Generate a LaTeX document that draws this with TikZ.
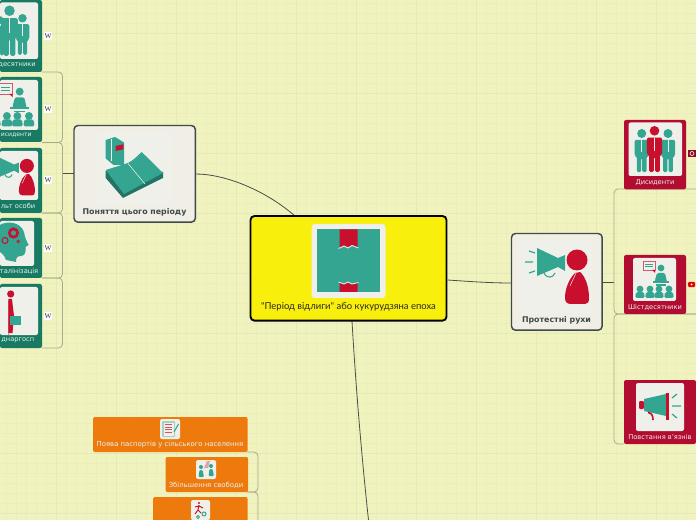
\documentclass[tikz,border=0pt]{standalone}
\usepackage{fontspec}
\setmainfont{DejaVu Sans}
\newfontfamily\titlefont{Lato}
\newfontfamily\wfont{Liberation Serif}
\usetikzlibrary{calc}
\definecolor{pagebg}{HTML}{F1F3BF}
\definecolor{gridminor}{HTML}{EBEDBB}
\definecolor{gridmajor}{HTML}{E5E8B8}
\definecolor{teal1}{HTML}{34A590}
\definecolor{red1}{HTML}{C8102E}
\definecolor{grn}{HTML}{187A62}
\definecolor{crim}{HTML}{B20D30}
\definecolor{org}{HTML}{EE7A0D}
\definecolor{imgbg}{HTML}{F0F0EB}
\definecolor{cardbg}{HTML}{F1EFE5}
\definecolor{cardline}{HTML}{3F4A4C}
\definecolor{rail}{HTML}{A9AB8C}
\definecolor{linkc}{HTML}{4A4F4A}
\definecolor{rootfill}{HTML}{F8EF0C}
\pgfdeclarelayer{grid}\pgfdeclarelayer{links}\pgfsetlayers{grid,links,main}
\tikzset{
 x=0.75pt,y=-0.75pt,
 basebox/.style={anchor=north west,inner sep=0pt,outer sep=0pt,rounded corners=1.5pt},
 greenbox/.style={basebox,fill=grn},
 redbox/.style={basebox,fill=crim},
 orangebox/.style={basebox,fill=org},
 cardbox/.style={basebox,fill=cardbg,draw=cardline,line width=1.1pt,rounded corners=3pt},
 rootbox/.style={basebox,fill=rootfill,draw=black,line width=1.4pt,rounded corners=3pt},
 lab/.style={inner sep=0pt,text=white!88!teal1,font=\fontsize{5}{6}\selectfont},
 cardlab/.style={inner sep=0pt,text=cardline,font=\fontsize{5.9}{7}\selectfont\bfseries},
 imgtile/.style={fill=imgbg,rounded corners=1.5pt},
 railline/.style={draw=rail,line width=0.6pt,rounded corners=3pt},
 linkline/.style={draw=linkc,line width=0.6pt},
 wicon/.style={fill=white,inner sep=0pt,minimum width=6pt,minimum height=6pt,font=\fontsize{5.5}{6}\wfont,text=black!80},
 ray/.style={line width=0.9pt,draw=teal1},
}
\newcommand{\figperson}[5][teal1]{%
 \begin{scope}[shift={(#2,#3)},scale=#4]
  \fill[#1] (0,5) circle (5);
  \fill[#1,rounded corners=1.2pt] (-8,12) -- (8,12) -- (8,30) -- (5.5,30) -- (5.5,48) -- (0.6,48) -- (0.6,32) -- (-0.6,32) -- (-0.6,48) -- (-5.5,48) -- (-5.5,30) -- (-8,30) -- cycle;
  \draw[#5,line width=0.35pt] (0,12) -- (0,26);
 \end{scope}}
\newcommand{\figlecture}[3]{%
 \begin{scope}[shift={(#1,#2)},scale=#3]
  \draw[red1!70!white,fill=imgbg,line width=0.5pt] (10,3) rectangle (22,12);
  \draw[teal1,line width=0.5pt] (12,6) -- (20,6) (12,8.5) -- (20,8.5);
  \fill[red1] (19,12) -- (22,12) -- (22,15) -- cycle;
  \fill[teal1] (28,10) circle (3.4);
  \fill[teal1,rounded corners=1pt] (22,22) -- (24,15) -- (32,15) -- (34,24) -- (22,24) -- cycle;
  \fill[teal1] (20,23) rectangle (36,25);
  \fill[teal1] (23,26.5) rectangle (33,28);
  \foreach \h in {7,17,26,36}{%
   \fill[teal1] (\h,31) circle (3.4);
   \fill[teal1,rounded corners=1.2pt] (\h-4.8,40) -- (\h-4,34) -- (\h+4,34) -- (\h+4.8,40) -- cycle;}
 \end{scope}}
\newcommand{\figspeaker}[3]{%
 \begin{scope}[shift={(#1,#2)},scale=#3]
  \draw[ray] (10,11) -- (16,13) (6,22) -- (14,22) (10,33) -- (16,31);
  \fill[teal1] (18,8) -- (39,18) -- (46,15) -- (46,31) -- (39,27) -- (18,36) -- cycle;
  \draw[teal1,line width=0.8pt] (25,33) .. controls (28,39) and (34,38) .. (36,33);
  \fill[red1] (58,20) circle (10.5);
  \fill[red1] (56,33) .. controls (49,40) and (46,50) .. (46,58) .. controls (46,62) and (48,64) .. (52,64) -- (66,64) .. controls (69,64) and (70,62) .. (70,58) .. controls (70,46) and (66,36) .. (61,32) -- cycle;
  \draw[imgbg,line width=0.35pt] (57,33) -- (51,46);
 \end{scope}}
\begin{document}
\begin{tikzpicture}
\useasboundingbox (0,0) rectangle (696,520);
\clip (0,0) rectangle (696,520);
\begin{pgfonlayer}{grid}
 \fill[pagebg] (0,0) rectangle (696,520);
 \foreach \gx in {6.7,16.7,...,696}{\draw[gridminor,line width=0.5pt] (\gx,0) -- (\gx,520);}
 \foreach \gy in {3,13,...,520}{\draw[gridminor,line width=0.5pt] (0,\gy) -- (696,\gy);}
 \foreach \gx in {56.7,116.7,...,696}{\draw[gridmajor,line width=0.7pt] (\gx,0) -- (\gx,520);}
 \foreach \gy in {33,93,...,520}{\draw[gridmajor,line width=0.7pt] (0,\gy) -- (696,\gy);}
\end{pgfonlayer}

% ---------- root
\node[rootbox,minimum width=147pt,minimum height=78.5pt] (root) at (250.5,216) {};
\fill[imgbg,rounded corners=2.5pt] (311.5,224) rectangle (385.5,298);
\fill[teal1] (317,229.5) rectangle (380,292);
\fill[red1] (339.5,229.5) -- (357.5,229.5) -- (357.5,247) -- (352,245) -- (348,247.5) -- (344,245.5) -- (339.5,248) -- cycle;
\fill[red1] (339.5,292) -- (357.5,292) -- (357.5,283) -- (352,284.5) -- (348,282.5) -- (344,284.5) -- (339.5,282.5) -- cycle;
\draw[imgbg,line width=0.6pt] (338.5,248.5) -- (344,246) -- (348,248) -- (352,245.5) -- (358.5,248);
\draw[imgbg,line width=0.6pt] (338.5,282) -- (344,284) -- (348,282) -- (352,284) -- (358.5,282.5);
\node[inner sep=0pt,text=black!85,font=\fontsize{7.1}{8}\titlefont] (roottxt) at (348.5,306.5) {"Період відлиги" або кукурудзяна епоха};

% ---------- concept card
\node[cardbox,minimum width=91pt,minimum height=72.5pt] (concept) at (74,125.5) {};
\fill[imgbg,rounded corners=2pt] (97,132) rectangle (172,205);
\fill[teal1] (105.7,140) -- (115,137) -- (124,142.5) -- (124,165) -- (113.5,165) -- (105.7,158.5) -- cycle;
\fill[red1] (115.7,146) -- (123.3,144.3) -- (123.3,149.3) -- (115.7,151) -- cycle;
\draw[imgbg,line width=0.3pt] (111,139.5) -- (111,161);
\fill[teal1!70!black] (105.7,171) -- (105.7,178) -- (123,198) -- (163,178) -- (163,172) -- cycle;
\fill[teal1] (105.7,170) -- (128,163) .. controls (134,160) and (137,156) .. (141.7,152) -- (163,173) -- (124,194) -- cycle;
\draw[imgbg,line width=0.4pt] (128,163.5) -- (145,184);
\node[cardlab] (concepttxt) at (134.5,212) {Поняття цього періоду};

% ---------- protest card
\node[cardbox,minimum width=68pt,minimum height=72.5pt] (protest) at (511.5,233.5) {};
\fill[imgbg,rounded corners=2pt] (519,240) rectangle (592,313);
\figspeaker{519}{240}{1}
\node[cardlab] (protesttxt) at (556.5,320) {Протестні рухи};

% ---------- left green column
\node[greenbox,minimum width=31.5pt,minimum height=54pt] (g1) at (0,0) {};
\node[greenbox,minimum width=31.5pt,minimum height=48.75pt] (g2) at (0,77) {};
\node[greenbox,minimum width=31.5pt,minimum height=48.75pt] (g3) at (0,148) {};
\node[greenbox,minimum width=31.5pt,minimum height=45pt] (g4) at (0,218) {};
\node[greenbox,minimum width=31.5pt,minimum height=48pt] (g5) at (0,284) {};
\fill[imgtile] (0,2.5) rectangle (38,59);
\fill[imgtile] (0,80) rectangle (38,130);
\fill[imgtile] (0,151) rectangle (38,200);
\fill[imgtile] (0,221) rectangle (34,266);
\fill[imgtile] (0,287) rectangle (38,335);
\figperson{-0.5}{16}{0.82}{imgbg}
\figperson{22.5}{14}{0.85}{imgbg}
\figperson{9.5}{5.5}{1.05}{imgbg}
\figlecture{-12.8}{80}{1.16}
\figspeaker{-12}{152.5}{0.67}
\fill[teal1] (0,225) .. controls (6,221) and (20,221) .. (24,232) .. controls (25,238) and (26,240) .. (28.7,245) -- (25.5,247) .. controls (26,252) and (25,256) .. (21,256) .. controls (17,256) and (16,258) .. (16,262) -- (6,260) .. controls (4,254) and (1,253) .. (0,252) -- cycle;
\draw[red1,line width=1.2pt] (13.5,233) circle (3.6);
\draw[red1,line width=0.9pt] (13.5,233) circle (5) ;
\draw[red1,line width=0.8pt] (5,240.5) circle (3);
\draw[red1,line width=0.5pt] (18.3,241.5) circle (1.4);
\fill[red1!45!imgbg] (7.7,301) rectangle (8.7,335);
\fill[red1] (10.7,294) circle (3.6);
\fill[red1] (8.3,299) -- (12,299) -- (13,308) -- (14,316) -- (12.5,333) -- (8.3,333) -- cycle;
\fill[teal1] (9.7,316) rectangle (21,324.5);
\node[lab,anchor=east] (t1) at (36,65) {десятники};
\node[lab,anchor=east,font=\fontsize{4.6}{6}\selectfont] (t2) at (32,135.5) {исиденти};
\node[lab,anchor=east] (t3) at (35.5,205.5) {льт особи};
\node[lab,anchor=east] (t4) at (38.5,271.5) {талінізація};
\node[lab,anchor=east] (t5) at (34.5,340.5) {днаргосп};
\node[wicon] (w1) at (48,36) {W};
\node[wicon] (w2) at (48,109) {W};
\node[wicon] (w3) at (48,180.5) {W};
\node[wicon] (w4) at (48,248) {W};
\node[wicon] (w5) at (48,316) {W};

% ---------- right crimson column
\node[redbox,minimum width=46.5pt,minimum height=52pt] (r1) at (624,120) {};
\node[redbox,minimum width=46.5pt,minimum height=44.25pt] (r2) at (624,255) {};
\node[redbox,minimum width=54pt,minimum height=48pt] (r3) at (624,380) {};
\fill[imgtile] (628.5,122.5) rectangle (682,176);
\fill[imgtile] (633,258) rectangle (676,301);
\fill[imgtile] (636,383) rectangle (684,431);
\figperson{641.7}{129}{0.9}{imgbg}
\figperson{668}{129}{0.9}{imgbg}
\figperson[red1]{654.5}{126}{0.96}{imgbg}
\figlecture{633}{258}{1}
\fill[red1,rounded corners=0.8pt] (639,401) rectangle (644,409);
\fill[teal1] (644,399) -- (666,394) -- (666,416) -- (644,411) -- cycle;
\fill[red1] (666,393) rectangle (669,420);
\draw[ray] (672,398) -- (677,394) (672,406) -- (681,406) (672,414) -- (677,418);
\draw[red1,line width=1.2pt] (648,412.5) .. controls (652,413) and (653,416) .. (653,420);
\node[lab] (rt1) at (655,183) {Дисиденти};
\node[lab] (rt2) at (655,307.5) {Шістдесятники};
\node[lab] (rt3) at (660,437.5) {Повстання в'язнів};
\node[fill=crim!80!black,inner sep=0pt,minimum width=5.5pt,minimum height=5.5pt] (b1) at (692,153.5) {};
\draw[white,line width=0.45pt] (692,153.5) circle (2);
\node[fill=red!90!black,rounded corners=1pt,inner sep=0pt,minimum width=5.5pt,minimum height=4pt] (b2) at (691.5,284.5) {};
\fill[white] (691.5,284.5) circle (1);

% ---------- orange column
\node[orangebox,minimum width=116pt,minimum height=26.25pt] (o1) at (93,417) {};
\node[orangebox,minimum width=62pt,minimum height=26.25pt] (o2) at (165.5,457) {};
\node[orangebox,minimum width=71pt,minimum height=20pt] (o3) at (153,497) {};
\fill[imgtile] (160,419) rectangle (180,439);
\fill[teal1!40!imgbg,rounded corners=0.6pt] (162,421) rectangle (175,437);
\fill[imgbg] (163.5,422.5) rectangle (173.5,435.5);
\foreach \ly in {424.5,427,429.5,432}{\draw[red1!70!imgbg,line width=0.7pt] (164.5,\ly) -- (172,\ly);}
\draw[teal1,line width=0.8pt] (174,432) -- (178.5,424);
\fill[imgtile] (196,460) rectangle (216,479);
\fill[teal1] (201,467) circle (2);
\fill[teal1,rounded corners=0.8pt] (198.5,477) -- (199.5,470) -- (202.5,470) -- (204,477) -- cycle;
\fill[teal1] (211,466) circle (2);
\fill[teal1,rounded corners=0.8pt] (208.5,476) -- (209.5,469) -- (212.5,469) -- (214,476) -- cycle;
\fill[red1!35!imgbg] (204,468) -- (207,461) -- (210,461) -- (208,468) -- cycle;
\fill[imgtile] (191,500) rectangle (210,520);
\fill[red1] (199,503) circle (1.2);
\draw[red1,line width=0.7pt] (199,505) -- (198,510) -- (195,514) (198,510) -- (201,513) (195,507) -- (199,506) -- (203,508);
\draw[teal1,line width=0.7pt] (204,514) circle (2) (198,517) circle (1.5);
\node[lab,font=\fontsize{5.15}{6}\selectfont] (ot1) at (170,444.5) {Поява паспортів у сільського населення};
\node[lab,font=\fontsize{5.15}{6}\selectfont] (ot2) at (206,485.5) {Збільшення свободи};

% ---------- connectors
\coordinate (rootTop) at (295,216);
\coordinate (rootRight) at (447.5,280);
\coordinate (rootBottom) at (352,321);
\coordinate (freeEnd) at (368.5,520);
\coordinate (conceptRail) at (62.5,173.5);
\coordinate (protestRail) at (614,282);
\coordinate (g1end) at (42,72);
\coordinate (g5end) at (42,348);
\coordinate (g2end) at (42,142.5);
\coordinate (g3end) at (42,213);
\coordinate (g4end) at (42,278);
\coordinate (r1end) at (696,189);
\coordinate (r2end) at (696,314);
\coordinate (r3end) at (624,444);
\coordinate (o1end) at (247,452);
\coordinate (o2end) at (247,492);
\coordinate (oDown) at (258,520);
\begin{pgfonlayer}{links}
 \draw[linkline] (rootTop) .. controls (265,190) and (225,174) .. (concept.east |- 0,174);
 \draw[linkline] (rootRight) .. controls (470,281.5) and (490,283) .. (protest.west |- 0,283);
 \draw[linkline] (rootBottom) .. controls (356,390) and (362,460) .. (freeEnd);
 \draw[linkline] (concept.west |- conceptRail) -- (conceptRail);
 \draw[linkline] (protest.east |- protestRail) -- (protestRail);
 \draw[railline] (g1end) -- (62.5,72) -- (62.5,142.5) -- (g2end);
 \draw[railline] (g2end) -- (62.5,142.5) -- (62.5,213) -- (g3end);
 \draw[railline] (g3end) -- (62.5,213) -- (62.5,278) -- (g4end);
 \draw[railline] (g4end) -- (62.5,278) -- (62.5,348) -- (g5end);
 \draw[railline] (r1end) -- (614,189) -- (614,314) -- (r2end);
 \draw[railline] (r2end) -- (614,314) -- (614,444) -- (r3end);
 \draw[railline] (o1end) -- (258,452) -- (258,492) -- (o2end);
 \draw[railline] (o2end) -- (258,492) -- (oDown);
\end{pgfonlayer}
\end{tikzpicture}
\end{document}
